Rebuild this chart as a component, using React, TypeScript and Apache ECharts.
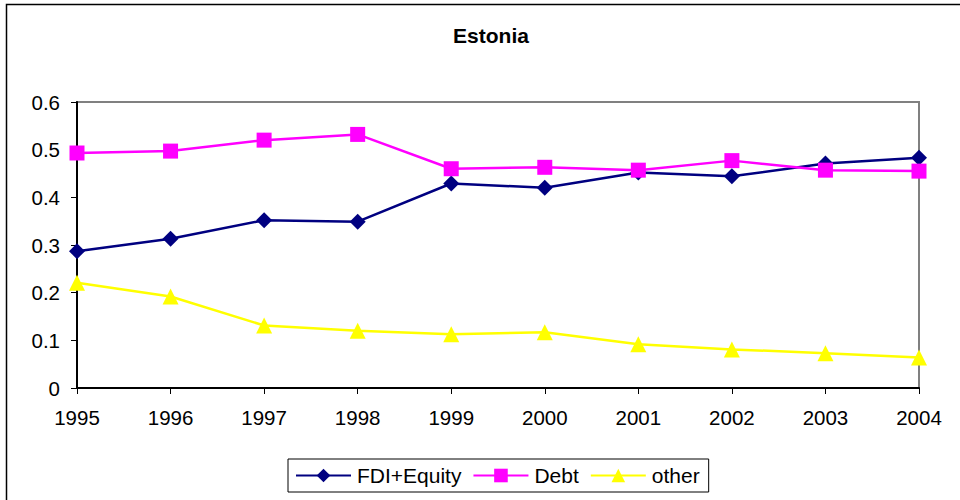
import React, { useEffect, useRef } from "react";
import * as echarts from "echarts";

const years = ["1995", "1996", "1997", "1998", "1999", "2000", "2001", "2002", "2003", "2004"];
const fdiEquity = [0.287, 0.313, 0.352, 0.349, 0.429, 0.42, 0.452, 0.444, 0.471, 0.483];
const debt = [0.493, 0.497, 0.52, 0.532, 0.46, 0.463, 0.457, 0.477, 0.457, 0.455];
const other = [0.221, 0.192, 0.131, 0.12, 0.113, 0.117, 0.092, 0.081, 0.073, 0.064];

const FONT = "'Liberation Sans', Arial, sans-serif";

export default function App() {
  const ref = useRef<HTMLDivElement>(null);
  useEffect(() => {
    if (!ref.current) return;
    const chart = echarts.init(ref.current, undefined, { renderer: "svg" });
    chart.setOption({
      animation: false,
      backgroundColor: "#ffffff",
      textStyle: { fontFamily: FONT },
      title: {
        text: "Estonia",
        left: 486,
        textAlign: "center",
        top: 20,
        textStyle: { fontFamily: FONT, fontSize: 21, fontWeight: "bold", color: "#000" },
      },
      graphic: [
        {
          type: "rect",
          shape: { x: 6.5, y: 4.5, width: 1000, height: 600 },
          style: { fill: "none", stroke: "#000", lineWidth: 1.5 },
          silent: true,
          z: -1,
        },
      ],
      legend: {
        left: 288,
        top: 459,
        padding: [6, 9, 6, 7],
        borderColor: "#000",
        borderWidth: 1,
        borderRadius: 0,
        itemWidth: 55,
        itemHeight: 17,
        itemGap: 11,
        textStyle: { fontFamily: FONT, fontSize: 21, color: "#000", padding: [0, 0, 0, 1] },
        data: ["FDI+Equity", "Debt", "other"],
      },
      grid: {
        left: 77,
        right: 41,
        top: 102,
        bottom: 112,
        show: true,
        borderColor: "#808080",
        borderWidth: 2,
        backgroundColor: "#fff",
      },
      xAxis: {
        type: "category",
        data: years,
        boundaryGap: false,
        axisLine: { lineStyle: { color: "#000", width: 2 } },
        axisTick: { show: true, length: 6, lineStyle: { color: "#000" } },
        axisLabel: { fontFamily: FONT, fontSize: 20.5, color: "#000", margin: 19 },
        splitLine: { show: false },
      },
      yAxis: {
        type: "value",
        min: 0,
        max: 0.6,
        interval: 0.1,
        axisLine: { show: true, lineStyle: { color: "#000", width: 2 } },
        axisTick: { show: true, length: 6, lineStyle: { color: "#000" } },
        axisLabel: {
          fontFamily: FONT,
          fontSize: 20.5,
          color: "#000",
          margin: 17,
          formatter: (v: number) => (v === 0 ? "0" : String(Math.round(v * 10) / 10)),
        },
        splitLine: { show: false },
      },
      series: [
        {
          name: "FDI+Equity",
          type: "line",
          data: fdiEquity,
          symbol: "diamond",
          symbolSize: 16,
          color: "#000080",
          lineStyle: { color: "#000080", width: 2.5 },
          itemStyle: { color: "#000080" },
          z: 3,
        },
        {
          name: "Debt",
          type: "line",
          data: debt,
          symbol: "rect",
          symbolSize: 15,
          color: "#ff00ff",
          lineStyle: { color: "#ff00ff", width: 2.5 },
          itemStyle: { color: "#ff00ff" },
          z: 4,
        },
        {
          name: "other",
          type: "line",
          data: other,
          symbol: "triangle",
          symbolSize: 16,
          color: "#ffff00",
          lineStyle: { color: "#ffff00", width: 2.5 },
          itemStyle: { color: "#ffff00" },
          z: 2,
        },
      ],
    });
    return () => chart.dispose();
  }, []);
  return (
    <div
      ref={ref}
      style={{ position: "fixed", left: 0, top: 0, width: 960, height: 500, background: "#fff" }}
    />
  );
}
